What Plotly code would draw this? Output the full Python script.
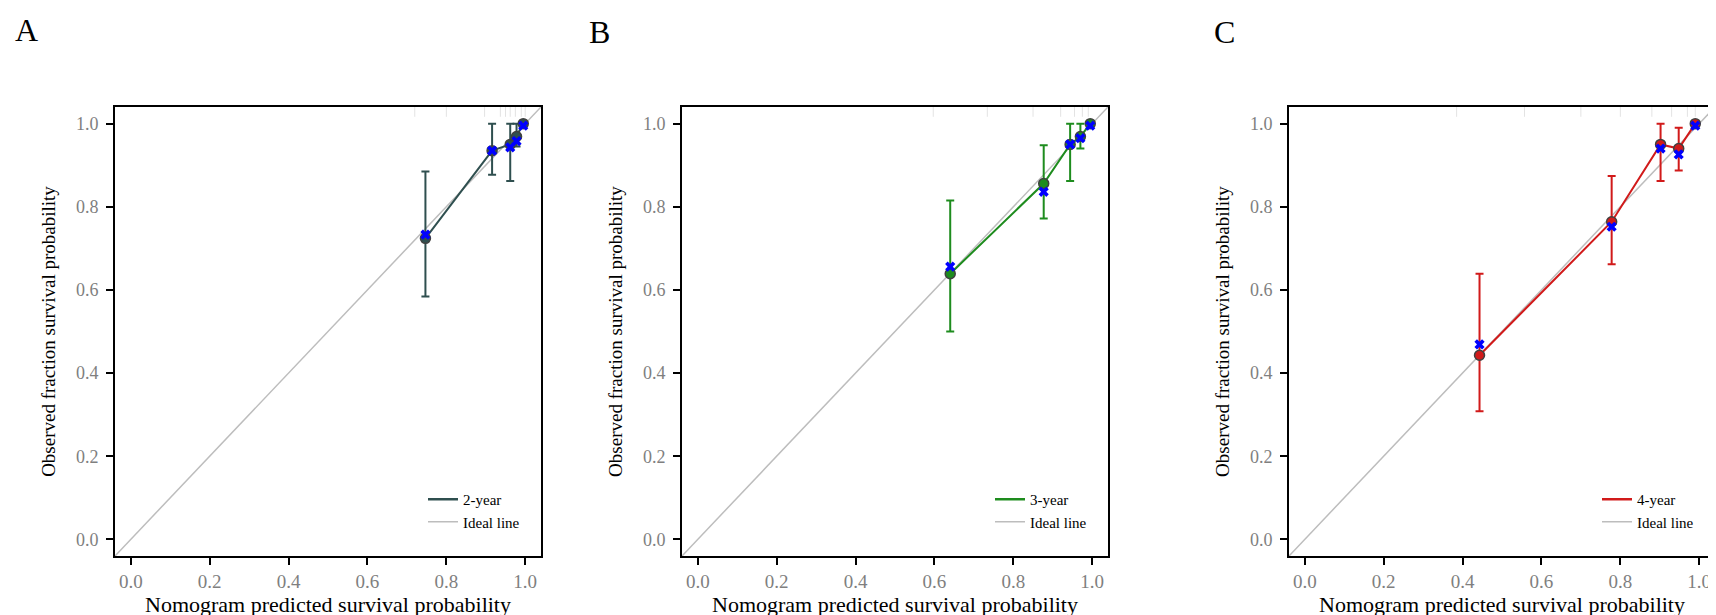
import plotly.graph_objects as go

# calibration curves (predicted vs observed survival)
panel_labels = ["A", "B", "C"]
series_names = ["2-year", "3-year", "4-year"]

pred_2y = [0.747, 0.916, 0.962, 0.978, 0.995]
obs_2y = [0.724, 0.935, 0.950, 0.969, 1.000]
lower_2y = [0.584, 0.877, 0.862, 0.945, 1.000]
upper_2y = [0.885, 1.000, 1.000, 1.000, 1.000]
corrected_2y = [0.733, 0.935, 0.943, 0.958, 0.995]
rug_2y = [0.72, 0.80, 0.897, 0.937, 0.95, 0.962, 0.975, 0.99, 1.0]

pred_3y = [0.640, 0.877, 0.944, 0.970, 0.995]
obs_3y = [0.639, 0.856, 0.950, 0.969, 1.000]
lower_3y = [0.500, 0.772, 0.862, 0.940, 1.000]
upper_3y = [0.815, 0.948, 1.000, 1.000, 1.000]
corrected_3y = [0.656, 0.836, 0.950, 0.965, 0.995]
rug_3y = [0.597, 0.734, 0.85, 0.92, 0.955, 0.975, 0.99]

pred_4y = [0.443, 0.778, 0.902, 0.948, 0.990]
obs_4y = [0.443, 0.764, 0.950, 0.940, 1.000]
lower_4y = [0.308, 0.662, 0.862, 0.887, 1.000]
upper_4y = [0.639, 0.874, 1.000, 0.990, 1.000]
corrected_4y = [0.469, 0.752, 0.940, 0.926, 0.995]
rug_4y = [0.385, 0.557, 0.70, 0.80, 0.88, 0.93, 0.97, 0.99]

ideal = [-0.04, 1.04]

colors = ["#2F4F4F", "#1E8C1E", "#D11A1A"]
FONT = "Liberation Serif"

panels = [
    (pred_2y, obs_2y, lower_2y, upper_2y, corrected_2y, rug_2y),
    (pred_3y, obs_3y, lower_3y, upper_3y, corrected_3y, rug_3y),
    (pred_4y, obs_4y, lower_4y, upper_4y, corrected_4y, rug_4y),
]

W, H = 1716, 615
# plot boxes in pixels (left, right); top/bottom shared
boxes = [(107, 533), (674, 1100), (1281, 1707)]
box_top, box_bottom = 99, 548
label_pos = [(18, 22), (591, 24), (1216, 24)]

fig = go.Figure()
layout = dict(
    width=W, height=H,
    margin=dict(l=0, r=0, t=0, b=0),
    paper_bgcolor="white", plot_bgcolor="white",
    font=dict(family=FONT, color="black"),
    annotations=[],
)

for i, (pred, obs, lo, hi, corr, rug) in enumerate(panels):
    n = "" if i == 0 else str(i + 1)
    xa, ya = "x" + n, "y" + n
    leg = "legend" + n
    c = colors[i]

    # rug of predicted values along the top
    fig.add_trace(go.Scatter(
        x=rug, y=[1.04] * len(rug), xaxis=xa, yaxis=ya, mode="markers",
        marker=dict(symbol="line-ns", size=14, line=dict(color="#E3E3E3", width=1)),
        showlegend=False, hoverinfo="skip"))

    # ideal line
    fig.add_trace(go.Scatter(
        x=ideal, y=ideal, xaxis=xa, yaxis=ya, mode="lines",
        line=dict(color="#BDBDBD", width=1.5),
        name="Ideal line", showlegend=False))

    # observed with CI
    fig.add_trace(go.Scatter(
        x=pred, y=obs, xaxis=xa, yaxis=ya, mode="lines+markers",
        line=dict(color=c, width=2),
        marker=dict(symbol="circle", size=10, color=c, line=dict(color="#404040", width=1.5)),
        error_y=dict(type="data", symmetric=False,
                     array=[h - o for h, o in zip(hi, obs)],
                     arrayminus=[o - l for o, l in zip(obs, lo)],
                     color=c, thickness=2, width=4),
        showlegend=False))

    # bias-corrected estimates
    fig.add_trace(go.Scatter(
        x=pred, y=corr, xaxis=xa, yaxis=ya, mode="markers",
        marker=dict(symbol="x", size=9, color="#0000FF", line=dict(width=0)),
        showlegend=False))

    # legend entries
    fig.add_trace(go.Scatter(
        x=[None], y=[None], xaxis=xa, yaxis=ya, mode="lines",
        line=dict(color=c, width=2.5), name=series_names[i], legend=leg))
    fig.add_trace(go.Scatter(
        x=[None], y=[None], xaxis=xa, yaxis=ya, mode="lines",
        line=dict(color="#BDBDBD", width=1.5), name="Ideal line", legend=leg))

    left, right = boxes[i]
    axis_common = dict(
        range=[-0.04, 1.04], showgrid=False, zeroline=False,
        showline=True, linecolor="black", linewidth=2, mirror=True,
        ticks="outside", ticklen=7, tickwidth=2, tickcolor="black",
        tickvals=[0, 0.2, 0.4, 0.6, 0.8, 1.0], tickformat=".1f",
        tickfont=dict(family=FONT, size=18, color="#7F7F7F"),
    )
    layout["xaxis" + n] = dict(
        axis_common, domain=[left / W, right / W], anchor=ya,
        tickfont=dict(family=FONT, size=19, color="#7F7F7F"),
        title=dict(text="Nomogram predicted survival probability",
                   font=dict(family=FONT, size=22, color="black"), standoff=0),
    )
    layout["yaxis" + n] = dict(
        axis_common, domain=[1 - box_bottom / H, 1 - box_top / H], anchor=xa,
        ticklabelstandoff=4,
        title=dict(text="Observed fraction survival probability",
                   font=dict(family=FONT, size=19, color="black"), standoff=15),
    )
    layout[leg] = dict(
        x=(right - 16) / W, y=1 - (box_bottom - 18) / H,
        xanchor="right", yanchor="bottom",
        bgcolor="rgba(0,0,0,0)", borderwidth=0,
        font=dict(family=FONT, size=15, color="black"),
        tracegroupgap=0, itemwidth=30,
    )
    lx, ly = label_pos[i]
    layout["annotations"].append(dict(
        text=panel_labels[i], x=lx / W, y=1 - ly / H, xref="paper", yref="paper",
        showarrow=False, font=dict(family=FONT, size=32, color="black"),
        xanchor="center", yanchor="middle"))

fig.update_layout(**layout)
fig.write_html("out.html")
